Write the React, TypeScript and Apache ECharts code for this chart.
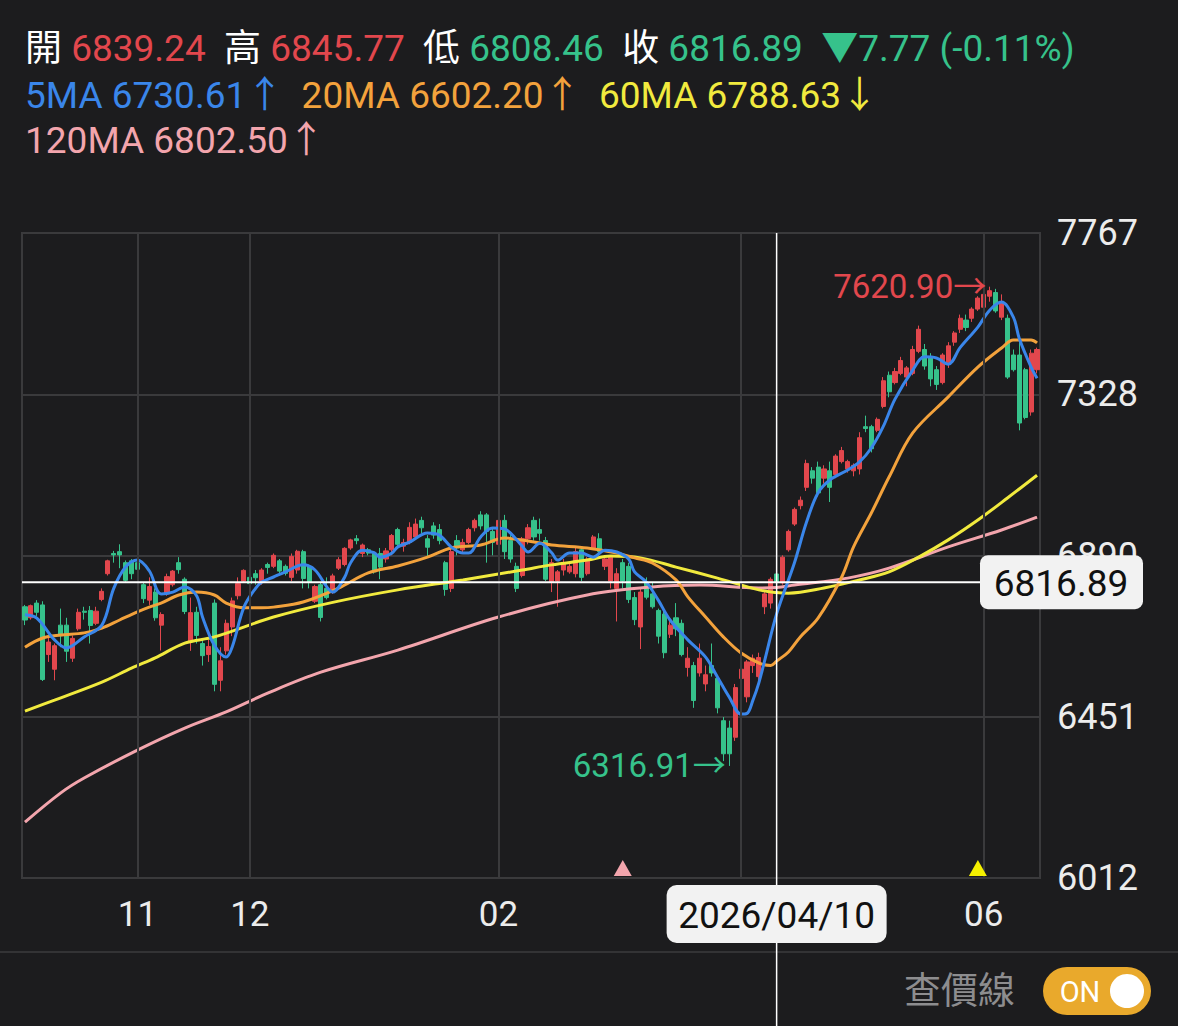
import React, { useEffect, useRef } from "react";
import * as echarts from "echarts";

// ---------- data ----------
const HOLIDAYS = ["2025-11-27", "2025-12-25", "2026-01-01", "2026-01-19", "2026-02-16", "2026-04-03", "2026-05-25"];
const START_DATE = "2025-10-07";
const END_DATE = "2026-06-12";
const GRID_DATES = ["2025-11-03", "2025-12-01", "2026-02-02", "2026-04-01", "2026-06-01"];
const LABEL_DATES = ["2025-11-03", "2025-12-01", "2026-02-02", "2026-06-01"]; // "04" sits under the date box
const CROSS_DATE = "2026-04-10";

// [open, close, low, high]
const CANDLES: number[][] = [
  [6750, 6714, 6700, 6755], [6720, 6753, 6715, 6756], [6760, 6735, 6725, 6768], [6755, 6552, 6548, 6765],
  [6620, 6654, 6600, 6668], [6580, 6644, 6550, 6650], [6700, 6671, 6640, 6745], [6700, 6629, 6600, 6720],
  [6610, 6664, 6600, 6672], [6690, 6735, 6685, 6745], [6738, 6735, 6715, 6750], [6740, 6699, 6650, 6752],
  [6705, 6738, 6700, 6750], [6770, 6792, 6765, 6800], [6840, 6875, 6835, 6878], [6895, 6891, 6870, 6902],
  [6900, 6891, 6855, 6920], [6870, 6822, 6818, 6876], [6875, 6840, 6825, 6880], [6870, 6852, 6820, 6880],
  [6810, 6772, 6760, 6815], [6768, 6805, 6755, 6830], [6790, 6720, 6712, 6800], [6700, 6729, 6631, 6735],
  [6785, 6832, 6780, 6840], [6810, 6847, 6805, 6850], [6870, 6851, 6840, 6885], [6825, 6737, 6730, 6830],
  [6655, 6734, 6630, 6775], [6735, 6672, 6650, 6750], [6650, 6617, 6590, 6665], [6620, 6642, 6600, 6660],
  [6760, 6539, 6520, 6770], [6550, 6603, 6520, 6640], [6630, 6705, 6620, 6715], [6695, 6766, 6670, 6775],
  [6780, 6813, 6770, 6830], [6820, 6849, 6815, 6852], [6830, 6813, 6800, 6850], [6840, 6829, 6810, 6850],
  [6820, 6850, 6810, 6855], [6865, 6857, 6840, 6870], [6860, 6890, 6855, 6895], [6875, 6847, 6835, 6880],
  [6860, 6841, 6835, 6865], [6830, 6887, 6820, 6895], [6850, 6901, 6840, 6905], [6900, 6827, 6800, 6905],
  [6860, 6817, 6800, 6865], [6765, 6805, 6760, 6810], [6810, 6721, 6710, 6815], [6800, 6775, 6770, 6830],
  [6790, 6834, 6785, 6840], [6855, 6878, 6850, 6885], [6865, 6909, 6860, 6912], [6910, 6932, 6905, 6935],
  [6935, 6930, 6920, 6945], [6895, 6918, 6885, 6922], [6905, 6896, 6890, 6910], [6895, 6845, 6840, 6900],
  [6895, 6858, 6825, 6910], [6880, 6902, 6870, 6910], [6905, 6944, 6890, 6948], [6960, 6920, 6915, 6965],
  [6915, 6925, 6900, 6935], [6925, 6966, 6920, 6980], [6940, 6975, 6935, 6990], [6985, 6965, 6950, 6995],
  [6935, 6912, 6885, 6945], [6970, 6945, 6935, 6980], [6960, 6930, 6920, 6975], [6870, 6797, 6780, 6875],
  [6800, 6900, 6790, 6910], [6930, 6910, 6890, 6945], [6905, 6925, 6895, 6935], [6925, 6960, 6920, 6965],
  [6965, 6985, 6955, 6990], [7000, 6970, 6960, 7010], [7000, 6955, 6870, 7005], [6955, 6925, 6890, 6965],
  [6920, 6985, 6915, 6990], [6985, 6900, 6880, 7000], [6930, 6880, 6870, 6945], [6860, 6800, 6790, 6870],
  [6835, 6935, 6830, 6940], [6935, 6965, 6920, 6975], [6985, 6940, 6930, 6995], [6960, 6950, 6930, 6990],
  [6930, 6825, 6820, 6940], [6818, 6870, 6790, 6880], [6820, 6845, 6750, 6850], [6850, 6870, 6835, 6880],
  [6845, 6860, 6840, 6870], [6840, 6900, 6830, 6910], [6905, 6830, 6820, 6915], [6840, 6880, 6835, 6885],
  [6910, 6940, 6905, 6945], [6935, 6900, 6890, 6950], [6860, 6880, 6850, 6890], [6820, 6885, 6800, 6890],
  [6800, 6840, 6710, 6855], [6870, 6820, 6800, 6880], [6860, 6770, 6760, 6870], [6775, 6715, 6700, 6790],
  [6695, 6790, 6635, 6800], [6815, 6776, 6770, 6830], [6785, 6750, 6745, 6815], [6740, 6670, 6650, 6745],
  [6730, 6625, 6610, 6740], [6675, 6700, 6665, 6715], [6720, 6690, 6670, 6760], [6705, 6620, 6615, 6715],
  [6585, 6610, 6560, 6640], [6590, 6495, 6475, 6600], [6570, 6610, 6560, 6650], [6540, 6565, 6520, 6590],
  [6590, 6570, 6560, 6650], [6555, 6475, 6460, 6560], [6440, 6350, 6330, 6450], [6420, 6350, 6316.91, 6440],
  [6395, 6530, 6385, 6540], [6555, 6580, 6470, 6600], [6505, 6600, 6490, 6605], [6590, 6610, 6570, 6620],
  [6560, 6612, 6545, 6625], [6750, 6785, 6730, 6790], [6760, 6824.66, 6745, 6830], [6839.24, 6816.89, 6808.46, 6845.77],
  [6815, 6885, 6810, 6890], [6905, 6955, 6900, 6960], [6975, 7015, 6970, 7020], [7025, 7040, 7015, 7050],
  [7075, 7140, 7065, 7150], [7120, 7100, 7085, 7130], [7130, 7060, 7050, 7145], [7100, 7125, 7085, 7135],
  [7120, 7075, 7035, 7145], [7110, 7160, 7100, 7165], [7145, 7175, 7140, 7185], [7125, 7145, 7115, 7150],
  [7120, 7135, 7105, 7140], [7125, 7210, 7110, 7225], [7240, 7235, 7225, 7270], [7240, 7180, 7170, 7245],
  [7230, 7260, 7225, 7265], [7295, 7365, 7290, 7375], [7380, 7335, 7320, 7390], [7360, 7390, 7355, 7400],
  [7385, 7420, 7380, 7430], [7375, 7400, 7350, 7405], [7385, 7450, 7380, 7460], [7445, 7505, 7440, 7515],
  [7450, 7405, 7395, 7465], [7430, 7370, 7350, 7440], [7395, 7355, 7340, 7405], [7360, 7435, 7355, 7440],
  [7415, 7460, 7400, 7470], [7470, 7495, 7460, 7500], [7505, 7535, 7495, 7545], [7530, 7510, 7500, 7545],
  [7535, 7560, 7525, 7565], [7560, 7590, 7555, 7595], [7565, 7600, 7555, 7610], [7595, 7610, 7580, 7620.9],
  [7605, 7555, 7550, 7615], [7538, 7578, 7530, 7600], [7535, 7375, 7370, 7545], [7435, 7395, 7390, 7450],
  [7435, 7250, 7230, 7470], [7395, 7265, 7260, 7400], [7280, 7440, 7270, 7450], [7395, 7450, 7385, 7455],
];

// moving averages: [day index, value]
const MA5: number[][] = [
  [0, 6728], [2, 6719], [5, 6660], [7, 6638], [10, 6668], [13, 6700], [15, 6800], [17, 6858], [19, 6877],
  [21, 6848], [23, 6785], [25, 6790], [27, 6804], [29, 6780], [30, 6722], [32, 6645], [34, 6613], [35, 6640],
  [37, 6749], [39, 6801], [40, 6817], [42, 6831], [44, 6845], [47, 6864], [49, 6850], [51, 6804], [52, 6790],
  [54, 6830], [55, 6869], [57, 6904], [59, 6897], [60, 6885], [62, 6896], [63, 6913], [65, 6926], [68, 6951],
  [70, 6945], [72, 6913], [74, 6896], [75, 6896], [77, 6940], [79, 6964], [81, 6962], [82, 6951], [84, 6915],
  [85, 6899], [87, 6923], [89, 6897], [90, 6877], [92, 6896], [94, 6896], [96, 6885], [98, 6904], [100, 6899],
  [102, 6880], [103, 6845], [105, 6817], [107, 6768], [109, 6714], [112, 6660], [115, 6613], [117, 6559],
  [119, 6504], [121, 6458], [122, 6460], [123, 6496], [124, 6543], [125, 6605], [127, 6730.61], [130, 6869],
  [132, 6978], [134, 7060], [136, 7095], [139, 7122], [141, 7144], [143, 7182], [145, 7240], [147, 7315],
  [150, 7394], [152, 7430], [154, 7427], [156, 7410], [158, 7455], [161, 7511], [163, 7557], [165, 7579],
  [167, 7538], [168, 7480], [170, 7402], [171, 7372],
];
const MA20: number[][] = [
  [0, 6640], [3, 6665], [6, 6673], [10, 6679], [13, 6692], [16, 6714], [19, 6736], [21, 6749], [23, 6760],
  [26, 6782], [29, 6790], [32, 6782], [34, 6760], [37, 6747], [40, 6747], [42, 6749], [47, 6763], [53, 6801],
  [58, 6842], [63, 6861], [68, 6885], [72, 6910], [77, 6918], [81, 6937], [85, 6929], [89, 6918], [95, 6910],
  [100, 6896], [103, 6883], [106, 6869], [110, 6823], [112, 6777], [115, 6722], [118, 6668], [121, 6624],
  [124, 6597], [126, 6590], [127, 6602.2], [129, 6627], [131, 6668], [134, 6719], [138, 6831], [140, 6913],
  [143, 7005], [146, 7103], [150, 7223], [156, 7321], [161, 7402], [165, 7454], [167, 7476], [170, 7476],
  [171, 7468],
];
const MA60: number[][] = [
  [0, 6466], [5, 6496], [13, 6545], [18, 6583], [22, 6611], [27, 6651], [32, 6668], [42, 6722], [52, 6762],
  [63, 6796], [74, 6823], [84, 6850], [89, 6864], [95, 6877], [99, 6888], [104, 6883], [110, 6858], [117, 6828],
  [124, 6796], [127, 6788.63], [129, 6787], [135, 6801], [141, 6823], [146, 6845], [151, 6885], [156, 6932],
  [161, 6986], [166, 7046], [171, 7108],
];
const MA120: number[][] = [
  [0, 6164], [6, 6243], [10, 6284], [19, 6360], [27, 6420], [34, 6464], [41, 6515], [50, 6572], [63, 6632],
  [80, 6722], [95, 6782], [106, 6804], [114, 6809], [124, 6801], [127, 6802.5], [130, 6809], [139, 6828],
  [146, 6855], [156, 6913], [165, 6959], [171, 6994],
];
const CROSS_MARK_DAYS = [101, 161]; // pink ▲, yellow ▲

const Y_MIN = 6012;
const Y_MAX = 7767;

// ---------- style ----------
const BG = "#1c1c1e";
const GRID = "#3a3a3c";
const RED = "#e2474d";
const GREEN = "#36c28b";
const BLUE = "#3a86ea";
const ORANGE = "#f3a23c";
const YELLOW = "#f1ea3e";
const PINK = "#f3a5ad";
const TEXT = "#ececec";
const FONT = "Roboto, 'Noto Sans CJK TC', sans-serif";
const HF = `37px ${FONT}`;

function tradingDays(start: string, end: string): string[] {
  const out: string[] = [];
  const [sy, sm, sd] = start.split("-").map(Number);
  const [ey, em, ed] = end.split("-").map(Number);
  let t = Date.UTC(sy, sm - 1, sd);
  const te = Date.UTC(ey, em - 1, ed);
  while (t <= te) {
    const d = new Date(t);
    const dow = d.getUTCDay();
    const s = d.toISOString().slice(0, 10);
    if (dow !== 0 && dow !== 6 && !HOLIDAYS.includes(s)) out.push(s);
    t += 86400000;
  }
  return out;
}

const DATES = tradingDays(START_DATE, END_DATE);

function maAt(arr: number[][], idx: number) {
  const k = arr.findIndex((p) => p[0] === idx);
  const v = arr[k][1];
  const prev = k > 0 ? arr[k - 1][1] : v;
  return { v, arrow: v >= prev ? "↑" : "↓" };
}

export default function App() {
  const ref = useRef<HTMLDivElement>(null);

  useEffect(() => {
    document.body.style.margin = "0";
    document.body.style.background = BG;
    if (!ref.current) return;
    const chart = echarts.init(ref.current, undefined, { renderer: "svg" });

    const gridIdx = GRID_DATES.map((d) => DATES.indexOf(d));
    const labelIdx = LABEL_DATES.map((d) => DATES.indexOf(d));
    const ci = DATES.indexOf(CROSS_DATE);
    const [o, c, l, h] = CANDLES[ci];
    const prevClose = CANDLES[ci - 1][1];
    const chg = c - prevClose;
    const pct = (chg / prevClose) * 100;
    const m5 = maAt(MA5, ci), m20 = maAt(MA20, ci), m60 = maAt(MA60, ci), m120 = maAt(MA120, ci);

    const maSeries = (name: string, data: number[][], color: string) => ({
      name,
      type: "line",
      data,
      smooth: 0.35,
      showSymbol: false,
      symbol: "none",
      silent: true,
      z: 4,
      lineStyle: { color, width: 3 },
    });

    chart.setOption({
      animation: false,
      backgroundColor: BG,
      grid: { left: 22, right: 138, top: 233, bottom: 148, show: true, borderColor: GRID, borderWidth: 2, backgroundColor: "transparent" },
      xAxis: {
        type: "category",
        data: DATES,
        boundaryGap: true,
        axisLine: { show: false },
        axisTick: { show: false },
        splitLine: { show: false },
        axisLabel: {
          interval: (i: number) => labelIdx.includes(i),
          formatter: (v: string) => v.slice(5, 7),
          color: TEXT,
          fontSize: 35,
          fontFamily: FONT,
          margin: 19,
        },
      },
      yAxis: {
        type: "value",
        position: "right",
        min: Y_MIN,
        max: Y_MAX,
        interval: (Y_MAX - Y_MIN) / 4,
        axisLine: { show: false },
        axisTick: { show: false },
        splitLine: { lineStyle: { color: GRID, width: 2 } },
        axisLabel: {
          formatter: (v: number) => String(Math.round(v)),
          color: TEXT,
          fontSize: 36,
          fontFamily: FONT,
          margin: 17,
        },
      },
      series: [
        {
          name: "grid",
          type: "line",
          data: DATES.map(() => null),
          z: 1,
          silent: true,
          showSymbol: false,
          markLine: {
            silent: true,
            symbol: ["none", "none"],
            label: { show: false },
            lineStyle: { color: GRID, width: 2, type: "solid" },
            data: gridIdx.map((i) => ({ xAxis: DATES[i] })),
          },
          markPoint: {
            silent: true,
            symbol: "triangle",
            symbolSize: [18, 16],
            symbolOffset: [0, -10],
            label: { show: false },
            data: CROSS_MARK_DAYS.map((i, k) => ({
              coord: [DATES[i], Y_MIN],
              itemStyle: { color: k === 0 ? PINK : "#f5f000" },
            })),
          },
        },
        {
          name: "K",
          type: "candlestick",
          data: CANDLES,
          barWidth: 4.6,
          z: 3,
          silent: true,
          itemStyle: { color: RED, color0: GREEN, borderColor: RED, borderColor0: GREEN, borderWidth: 1 },
          markPoint: {
            silent: true,
            symbol: "rect",
            symbolSize: 1,
            itemStyle: { color: "rgba(0,0,0,0)" },
            label: { fontSize: 33, fontFamily: FONT, position: "left", distance: 3 },
            data: [
              { type: "max", valueDim: "highest", label: { color: RED, formatter: (p: any) => Number(p.value).toFixed(2) + "→" } },
              { type: "min", valueDim: "lowest", label: { color: GREEN, formatter: (p: any) => Number(p.value).toFixed(2) + "→" } },
            ],
          },
        },
        maSeries("MA120", MA120, PINK),
        maSeries("MA60", MA60, YELLOW),
        maSeries("MA20", MA20, ORANGE),
        maSeries("MA5", MA5, BLUE),
      ],
    });

    const cx = chart.convertToPixel({ xAxisIndex: 0 }, DATES[ci]) as number;
    const cy = chart.convertToPixel({ yAxisIndex: 0 }, c) as number;
    const f2 = (v: number) => v.toFixed(2);
    const sign = chg < 0 ? "▼" : "▲";
    const cc = chg < 0 ? "g" : "r";

    chart.setOption({
      graphic: [
        { type: "line", z: 50, silent: true, shape: { x1: 22, y1: cy, x2: 985, y2: cy }, style: { stroke: "#ffffff", lineWidth: 2 } },
        { type: "line", z: 50, silent: true, shape: { x1: cx, y1: 233, x2: cx, y2: 1026 }, style: { stroke: "#ffffff", lineWidth: 1.5 } },
        { type: "rect", z: 60, silent: true, shape: { x: 980, y: cy - 27, width: 163, height: 54, r: 8 }, style: { fill: "#f2f2f2" } },
        { type: "text", z: 61, silent: true, style: { x: 1061, y: cy + 1, text: f2(c), fill: "#111", font: `37px ${FONT}`, align: "center", verticalAlign: "middle" } },
        { type: "rect", z: 60, silent: true, shape: { x: cx - 110, y: 885, width: 220, height: 58, r: 10 }, style: { fill: "#f2f2f2" } },
        { type: "text", z: 61, silent: true, style: { x: cx, y: 915, text: CROSS_DATE.replace(/-/g, "/"), fill: "#111", font: `37px ${FONT}`, align: "center", verticalAlign: "middle" } },
        { type: "line", z: 40, silent: true, shape: { x1: 0, y1: 952, x2: 1178, y2: 952 }, style: { stroke: "#333335", lineWidth: 2 } },
        {
          type: "text", z: 61, silent: true,
          style: {
            x: 25, y: 48, verticalAlign: "middle", font: HF, fill: TEXT,
            text: `{w|開} {r|${f2(o)}}  {w|高} {r|${f2(h)}}  {w|低} {g|${f2(l)}}  {w|收} {${cc}|${f2(c)}}  {${cc}|${sign}${Math.abs(chg).toFixed(2)} (${pct.toFixed(2)}%)}`,
            rich: {
              w: { fill: "#ffffff", font: HF },
              r: { fill: RED, font: HF },
              g: { fill: GREEN, font: HF },
            },
          },
        },
        {
          type: "text", z: 61, silent: true,
          style: {
            x: 25, y: 95, verticalAlign: "middle", font: HF, fill: TEXT,
            text: `{b|5MA ${f2(m5.v)}${m5.arrow}}  {o|20MA ${f2(m20.v)}${m20.arrow}}  {y|60MA ${f2(m60.v)}${m60.arrow}}`,
            rich: {
              b: { fill: BLUE, font: HF },
              o: { fill: ORANGE, font: HF },
              y: { fill: YELLOW, font: HF },
            },
          },
        },
        {
          type: "text", z: 61, silent: true,
          style: { x: 25, y: 140, verticalAlign: "middle", text: `120MA ${f2(m120.v)}${m120.arrow}`, fill: PINK, font: HF },
        },
        { type: "text", z: 61, silent: true, style: { x: 1015, y: 991, text: "查價線", fill: "#8d8d8f", font: `37px ${FONT}`, align: "right", verticalAlign: "middle" } },
        { type: "rect", z: 60, silent: true, shape: { x: 1043, y: 967, width: 108, height: 48, r: 24 }, style: { fill: "#e9a92c" } },
        { type: "text", z: 61, silent: true, style: { x: 1080, y: 992, text: "ON", fill: "#ffffff", font: `29px ${FONT}`, align: "center", verticalAlign: "middle" } },
        { type: "circle", z: 61, silent: true, shape: { cx: 1127, cy: 991, r: 17 }, style: { fill: "#ffffff" } },
      ],
    });

    return () => chart.dispose();
  }, []);

  return <div ref={ref} style={{ width: 1178, height: 1026, background: BG }} />;
}
